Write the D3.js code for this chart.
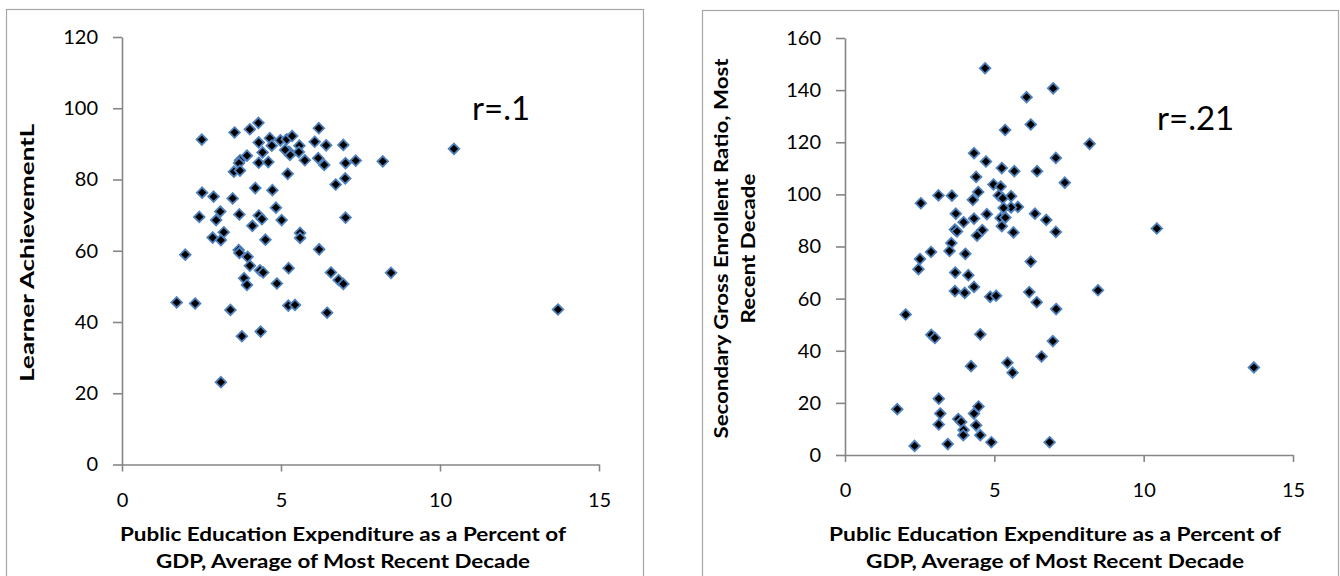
<!DOCTYPE html>
<html>
<head>
<meta charset="utf-8">
<script src="https://cdn.jsdelivr.net/npm/d3@7"></script>
<style>
  html, body { margin: 0; padding: 0; background: #fff; }
  svg { display: block; }
  text { font-family: Lato, "Open Sans", sans-serif; fill: #000; }
</style>
</head>
<body>
<svg id="chart" width="1340" height="576"></svg>
<script>
// Public education expenditure (% of GDP) vs. learner achievement
const spendA = [2.51,3.54,4.02,4.29,4.30,4.65,4.71,4.98,5.18,5.35,5.25,5.28,5.58,5.56,5.75,6.06,6.19,6.42,6.17,6.36,6.96,7.03,7.02,6.72,4.42,3.93,3.71,3.68,4.30,4.60,3.52,3.71,5.21,4.19,4.73,2.52,2.88,3.48,4.84,3.09,2.43,2.96,3.69,4.30,4.40,4.10,5.02,7.03,2.85,3.20,3.11,4.51,5.60,5.60,6.20,1.99,3.67,3.69,3.95,4.02,4.34,4.44,5.24,3.84,3.93,4.87,6.57,6.81,6.96,8.20,7.35,10.44,8.46,13.71,1.72,2.30,3.41,3.77,4.36,3.11,5.23,5.44,6.45,5.13];
const achievement = [91.2,93.2,94.1,95.9,90.4,91.6,89.5,91.0,91.3,92.2,87.8,86.9,89.5,87.7,85.4,90.6,94.4,89.6,86.0,84.1,89.7,84.6,80.3,78.6,87.6,86.7,85.4,84.6,84.7,84.9,82.2,82.5,81.6,77.6,77.0,76.3,75.2,74.7,72.1,71.0,69.5,68.6,70.2,69.9,68.9,67.0,68.6,69.3,63.7,65.2,63.0,63.1,65.0,63.6,60.4,58.9,60.2,59.4,58.3,55.8,54.5,53.9,55.1,52.3,50.4,50.8,53.9,51.8,50.7,85.1,85.3,88.6,53.8,43.5,45.5,45.2,43.4,36.0,37.3,23.1,44.6,44.8,42.6,88.3];

// Public education expenditure (% of GDP) vs. secondary gross enrolment
const spendB = [4.69,6.97,6.08,6.22,5.36,8.19,4.32,7.06,4.72,5.25,5.67,6.43,4.39,7.36,4.97,5.21,4.46,2.54,3.13,3.58,4.28,5.15,5.56,5.28,5.79,5.56,5.31,3.71,4.75,6.36,5.21,5.37,4.32,6.74,3.97,5.25,3.68,3.75,4.60,4.42,5.64,7.06,10.44,3.56,3.50,2.88,4.03,2.51,6.22,2.46,3.69,4.13,4.32,3.68,4.01,6.17,8.47,4.86,5.06,6.42,7.07,2.03,2.89,3.01,4.53,6.96,6.58,5.44,4.22,5.61,13.69,3.14,1.75,4.47,3.19,4.32,3.79,3.89,3.14,4.39,3.97,3.96,4.53,2.33,3.44,4.90,6.85];
const enrolment = [148.4,140.7,137.3,126.8,124.7,119.4,115.8,114.0,112.6,110.1,108.9,108.9,106.7,104.5,103.8,103.0,100.9,96.6,99.6,99.5,97.9,99.6,99.3,98.5,95.2,95.0,94.8,92.6,92.4,92.6,90.9,91.1,90.7,90.2,89.3,87.8,86.5,85.8,86.3,84.2,85.4,85.6,86.9,81.3,78.3,77.9,77.2,75.2,74.2,71.3,70.0,69.0,64.5,62.9,62.2,62.5,63.2,60.7,61.1,58.6,56.0,53.9,46.1,44.9,46.3,43.7,37.8,35.4,34.1,31.6,33.6,21.6,17.6,18.6,15.9,15.9,13.8,12.7,11.7,11.4,9.6,7.6,7.6,3.5,4.2,4.9,4.9];

const xTicks = [0, 5, 10, 15];
const yTicksA = [0, 20, 40, 60, 80, 100, 120];
const yTicksB = [0, 20, 40, 60, 80, 100, 120, 140, 160];

const xTitle = ["Public  Education Expenditure as a Percent of", "GDP, Average of Most Recent Decade"];
const panels = [
  {
    frame: [6, 9, 637, 580],
    xs: spendA, ys: achievement,
    xRange: [122, 599], yDomain: [0, 120], yRange: [464.5, 37], yTicks: yTicksA,
    yTitle: ["Learner AchievementL"], yTitleX: [34], yTitleLen: [258],
    xTitleY: [541, 568], xTitleLen: [446, 374], xTitleCx: 343,
    r: "r=.1", rPos: [472, 120]
  },
  {
    frame: [702, 10, 636, 580],
    xs: spendB, ys: enrolment,
    xRange: [845, 1293], yDomain: [0, 160], yRange: [455, 38], yTicks: yTicksB,
    yTitle: ["Secondary Gross Enrollent Ratio, Most", "Recent Decade"], yTitleX: [728, 755], yTitleLen: [380, 150],
    xTitleY: [541, 568], xTitleLen: [452, 378], xTitleCx: 1055,
    r: "r=.21", rPos: [1157, 130]
  }
];

const svg = d3.select("#chart");
const axisGrey = "#868686";

panels.forEach(p => {
  const g = svg.append("g");

  g.append("rect")
    .attr("x", p.frame[0] + 0.5).attr("y", p.frame[1] + 0.5)
    .attr("width", p.frame[2]).attr("height", p.frame[3])
    .attr("fill", "#fff").attr("stroke", "#a6a6a6").attr("stroke-width", 1.2);

  const x = d3.scaleLinear().domain([0, 15]).range(p.xRange);
  const y = d3.scaleLinear().domain(p.yDomain).range(p.yRange);

  // y axis
  const yAxis = g.append("g")
    .attr("transform", `translate(${p.xRange[0]},0)`)
    .call(d3.axisLeft(y).tickValues(p.yTicks).tickSize(9).tickPadding(15).tickSizeOuter(0));
  // x axis
  const xAxis = g.append("g")
    .attr("transform", `translate(0,${p.yRange[0]})`)
    .call(d3.axisBottom(x).tickValues(xTicks).tickSize(7).tickPadding(21).tickSizeOuter(0));

  [yAxis, xAxis].forEach(a => {
    a.select(".domain").attr("stroke", axisGrey).attr("stroke-width", 1.6);
    a.selectAll(".tick line").attr("stroke", axisGrey).attr("stroke-width", 1.6);
    a.selectAll(".tick text").style("font-family", "Lato, sans-serif").style("font-size", "20px").attr("fill", "#000");
  });

  // axis titles
  p.yTitle.forEach((t, i) => {
    g.append("text")
      .attr("transform", `translate(${p.yTitleX[i]},${(p.yRange[0] + p.yRange[1]) / 2 + 2}) rotate(-90)`)
      .attr("text-anchor", "middle")
      .attr("textLength", p.yTitleLen[i]).attr("lengthAdjust", "spacingAndGlyphs")
      .style("font-size", "19px").style("font-weight", "bold")
      .text(t);
  });
  xTitle.forEach((t, i) => {
    g.append("text")
      .attr("x", p.xTitleCx).attr("y", p.xTitleY[i])
      .attr("text-anchor", "middle")
      .attr("textLength", p.xTitleLen[i]).attr("lengthAdjust", "spacingAndGlyphs")
      .style("font-size", "19px").style("font-weight", "bold")
      .text(t);
  });

  // correlation label
  g.append("text")
    .attr("x", p.rPos[0]).attr("y", p.rPos[1])
    .style("font-size", "33px")
    .text(p.r);

  // diamond markers
  const diamond = d3.symbol().type(d3.symbolDiamond2).size(72);
  g.append("g").selectAll("path")
    .data(d3.range(p.xs.length))
    .join("path")
    .attr("d", diamond)
    .attr("transform", i => `translate(${x(p.xs[i])},${y(p.ys[i])})`)
    .attr("fill", "#000")
    .attr("stroke", "#4f81bd")
    .attr("stroke-width", 1.8);
});
</script>
</body>
</html>
